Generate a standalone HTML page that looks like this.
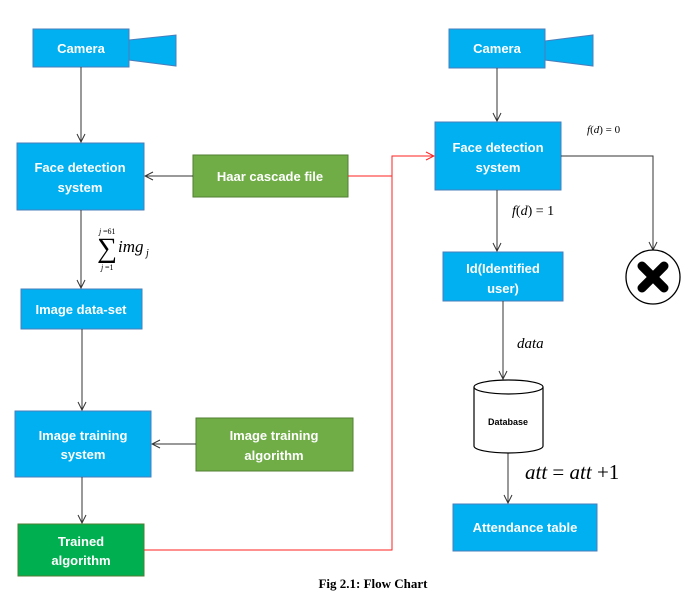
<!DOCTYPE html>
<html><head><style>body{margin:0;background:#fff}</style></head><body>
<svg width="688" height="602" viewBox="0 0 688 602" xmlns="http://www.w3.org/2000/svg" font-family="Liberation Sans, sans-serif">
<defs><marker id="a" markerWidth="10" markerHeight="10" refX="9" refY="5" orient="auto" markerUnits="userSpaceOnUse"><path d="M1,1 L9,5 L1,9" fill="none" stroke="#333" stroke-width="1"/></marker>
<marker id="r" markerWidth="10" markerHeight="10" refX="9" refY="5" orient="auto" markerUnits="userSpaceOnUse"><path d="M1,1 L9,5 L1,9" fill="none" stroke="#f22" stroke-width="1"/></marker></defs>
<g stroke="#4a7ebb" stroke-width="1">
<rect x="33" y="29" width="96" height="38" fill="#00B0F0"/>
<polygon points="129,40 176,35 176,66 129,60" fill="#00B0F0"/>
<rect x="17" y="143" width="127" height="67" fill="#00B0F0"/>
<rect x="21" y="289" width="121" height="40" fill="#00B0F0"/>
<rect x="15" y="411" width="136" height="66" fill="#00B0F0"/>
<rect x="449" y="29" width="96" height="39" fill="#00B0F0"/>
<polygon points="545,41 593,35 593,66 545,60" fill="#00B0F0"/>
<rect x="435" y="122" width="126" height="68" fill="#00B0F0"/>
<rect x="443" y="252" width="120" height="49" fill="#00B0F0"/>
<rect x="453" y="504" width="144" height="47" fill="#00B0F0"/>
</g>
<g stroke="#507e32" stroke-width="1">
<rect x="193" y="155" width="155" height="42" fill="#70AD47"/>
<rect x="196" y="418" width="157" height="53" fill="#70AD47"/>
<rect x="18" y="524" width="126" height="52" fill="#00B050"/>
</g>
<g stroke="#333" stroke-width="1" fill="none">
<line x1="81" y1="67" x2="81" y2="142" marker-end="url(#a)"/>
<line x1="193" y1="176" x2="145" y2="176" marker-end="url(#a)"/>
<line x1="81" y1="210" x2="81" y2="288" marker-end="url(#a)"/>
<line x1="82" y1="329" x2="82" y2="410" marker-end="url(#a)"/>
<line x1="196" y1="444" x2="152" y2="444" marker-end="url(#a)"/>
<line x1="82" y1="477" x2="82" y2="523" marker-end="url(#a)"/>
<line x1="497" y1="68" x2="497" y2="121" marker-end="url(#a)"/>
<polyline points="561,156 653,156 653,250" marker-end="url(#a)"/>
<line x1="497" y1="190" x2="497" y2="251" marker-end="url(#a)"/>
<line x1="503" y1="301" x2="503" y2="379" marker-end="url(#a)"/>
<line x1="508" y1="453" x2="508" y2="503" marker-end="url(#a)"/>
</g>
<polyline points="348,176 392,176" stroke="#f22" fill="none"/>
<polyline points="144,550 392,550 392,156 434,156" stroke="#f22" fill="none" marker-end="url(#r)"/>
<circle cx="653" cy="277" r="27" fill="#fff" stroke="#000" stroke-width="1.3"/>
<g stroke="#000" stroke-width="9" stroke-linecap="round"><line x1="642" y1="266" x2="664" y2="288"/><line x1="664" y1="266" x2="642" y2="288"/></g>
<path d="M474,387 L474,446 A34.5,7 0 0 0 543,446 L543,387" fill="#fff" stroke="#000" stroke-width="1.2"/>
<ellipse cx="508.5" cy="387" rx="34.5" ry="7" fill="#fff" stroke="#000" stroke-width="1.2"/>
<text x="508" y="425" font-size="9" font-weight="bold" text-anchor="middle">Database</text>
<g fill="#fff" font-weight="bold" font-size="13" text-anchor="middle">
<text x="81" y="53">Camera</text>
<text x="80" y="172">Face detection</text><text x="80" y="192">system</text>
<text x="270" y="181">Haar cascade file</text>
<text x="81" y="314">Image data-set</text>
<text x="83" y="440">Image training</text><text x="83" y="459">system</text>
<text x="274" y="440">Image training</text><text x="274" y="460">algorithm</text>
<text x="81" y="546">Trained</text><text x="81" y="565">algorithm</text>
<text x="497" y="53">Camera</text>
<text x="498" y="152">Face detection</text><text x="498" y="172">system</text>
<text x="503" y="273">Id(Identified</text><text x="503" y="293">user)</text>
<text x="525" y="532">Attendance table</text>
</g>
<g font-family="Liberation Serif, serif">
<text x="99" y="234" font-size="8" font-style="italic">j</text><text x="103" y="234" font-size="8">=61</text>
<text x="97" y="257" font-size="28">∑</text>
<text x="118" y="252" font-size="17" font-style="italic">img</text><text x="146" y="256" font-size="10" font-style="italic">j</text>
<text x="101" y="270" font-size="8" font-style="italic">j</text><text x="105" y="270" font-size="8">=1</text>
<text x="587" y="133" font-size="11"><tspan font-style="italic">f</tspan>(<tspan font-style="italic">d</tspan>) = 0</text>
<text x="512" y="215" font-size="14"><tspan font-style="italic">f</tspan>(<tspan font-style="italic">d</tspan>) = 1</text>
<text x="517" y="348" font-size="15" font-style="italic">data</text>
<text x="525" y="479" font-size="21"><tspan font-style="italic">att</tspan> = <tspan font-style="italic">att</tspan> +1</text>
<text x="373" y="588" font-size="13" font-weight="bold" text-anchor="middle">Fig 2.1: Flow Chart</text>
</g>
</svg>
</body></html>
